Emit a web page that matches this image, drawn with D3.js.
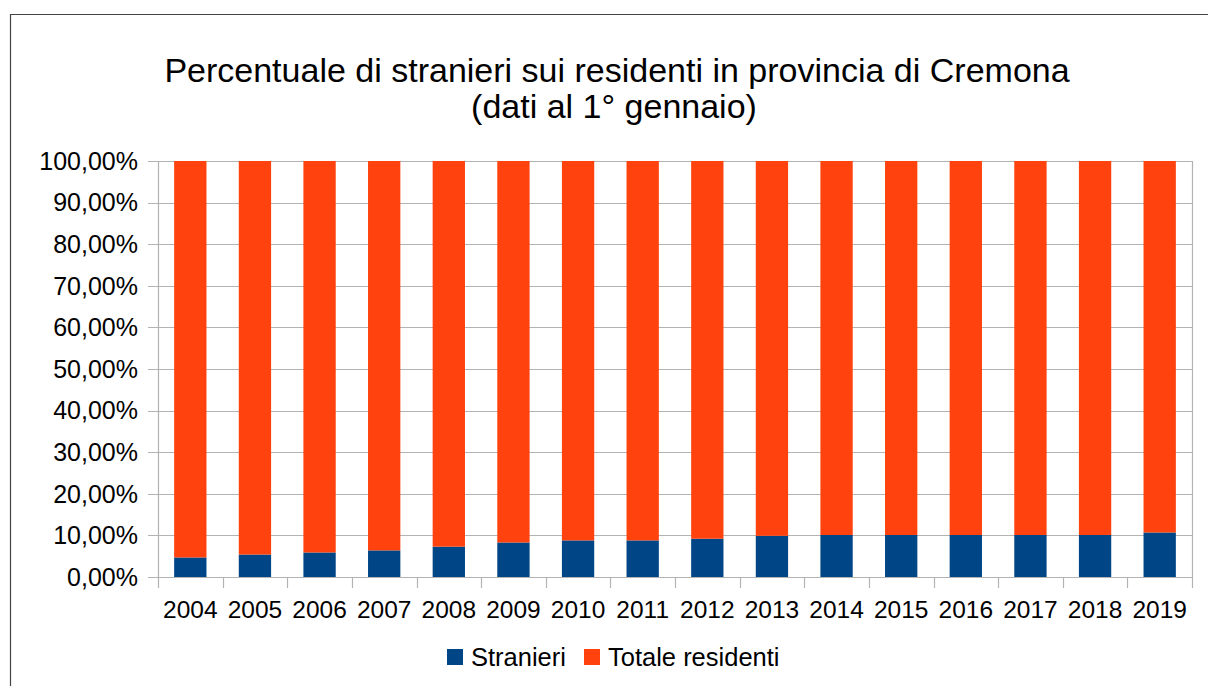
<!DOCTYPE html>
<html>
<head>
<meta charset="utf-8">
<script src="https://cdn.jsdelivr.net/npm/d3@7"></script>
<style>
  html, body { margin: 0; padding: 0; background: #fff; }
  svg { display: block; font-family: "Liberation Sans", Arial, sans-serif; }
</style>
</head>
<body>
<svg id="chart" width="1208" height="686"></svg>
<script>
const years = ["2004","2005","2006","2007","2008","2009","2010","2011","2012","2013","2014","2015","2016","2017","2018","2019"];
const stranieri = [4.7, 5.4, 5.9, 6.4, 7.3, 8.3, 8.8, 8.8, 9.2, 9.9, 10.1, 10.1, 10.1, 10.1, 10.1, 10.7];
const totaleResidenti = [95.3, 94.6, 94.1, 93.6, 92.7, 91.7, 91.2, 91.2, 90.8, 90.1, 89.9, 89.9, 89.9, 89.9, 89.9, 89.3];
const yTicks = [0, 10, 20, 30, 40, 50, 60, 70, 80, 90, 100];
const seriesNames = ["Stranieri", "Totale residenti"];
const colors = ["#004586", "#ff420e"];
const titleLines = ["Percentuale di stranieri sui residenti in provincia di Cremona", "(dati al 1° gennaio)"];

const svg = d3.select("#chart");
const pLeft = 158, pRight = 1192, pTop = 161, pBottom = 577;

// outer frame
svg.append("path").attr("d", "M10.5,686 L10.5,14.5 L1208,14.5")
  .attr("fill", "none").attr("stroke", "#444").attr("stroke-width", 1.2);

const x = d3.scaleBand().domain(years).range([pLeft, pRight]).padding(0);
const y = d3.scaleLinear().domain([0, 100]).range([pBottom, pTop]);

const rows = years.map((yr, i) => ({ year: yr, s: stranieri[i], t: totaleResidenti[i] }));
const stacked = d3.stack().keys(["s", "t"])(rows);

const grid = "#b3b3b3";
// horizontal grid
svg.append("g").selectAll("line").data(yTicks).join("line")
  .attr("x1", pLeft - 10).attr("x2", pRight)
  .attr("y1", d => Math.round(y(d)) + 0.5).attr("y2", d => Math.round(y(d)) + 0.5)
  .attr("stroke", grid).attr("stroke-width", 1.2);

// vertical ticks at category boundaries
const bounds = years.map(d => x(d)).concat([pRight]);
svg.append("g").selectAll("line").data(bounds).join("line")
  .attr("x1", d => Math.round(d) + 0.5).attr("x2", d => Math.round(d) + 0.5)
  .attr("y1", (d, i) => (i === 0 || i === bounds.length - 1) ? pTop : pBottom)
  .attr("y2", pBottom + 11)
  .attr("stroke", grid).attr("stroke-width", 1.2);

// bars
const bw = x.bandwidth() * 0.5;
svg.append("g").selectAll("g").data(stacked).join("g")
  .attr("fill", (d, i) => colors[i])
  .selectAll("rect").data(d => d).join("rect")
  .attr("x", d => x(d.data.year) + (x.bandwidth() - bw) / 2)
  .attr("width", bw)
  .attr("y", d => y(d[1]))
  .attr("height", d => y(d[0]) - y(d[1]));

// y labels
const fmt = v => d3.format(".2f")(v).replace(".", ",") + "%";
svg.append("g").selectAll("text").data(yTicks).join("text")
  .attr("x", 138).attr("y", d => y(d))
  .attr("dy", "0.35em")
  .attr("text-anchor", "end")
  .attr("font-size", 25).attr("fill", "#000")
  .text(fmt);

// x labels
svg.append("g").selectAll("text").data(years).join("text")
  .attr("x", d => x(d) + x.bandwidth() / 2).attr("y", 618)
  .attr("text-anchor", "middle")
  .attr("font-size", 24.5).attr("fill", "#000")
  .text(d => d);

// title
svg.append("text").attr("x", 617).attr("y", 82).attr("text-anchor", "middle")
  .attr("font-size", 34).attr("fill", "#000").text(titleLines[0]);
svg.append("text").attr("x", 614).attr("y", 118).attr("text-anchor", "middle")
  .attr("font-size", 34).attr("fill", "#000").text(titleLines[1]);

// legend
const legendX = [447, 584];
const lg = svg.append("g");
seriesNames.forEach((name, i) => {
  lg.append("rect").attr("x", legendX[i]).attr("y", 649).attr("width", 16).attr("height", 16).attr("fill", colors[i]);
  lg.append("text").attr("x", legendX[i] + 24).attr("y", 666).attr("font-size", 25.5).attr("fill", "#000").text(name);
});
</script>
</body>
</html>
